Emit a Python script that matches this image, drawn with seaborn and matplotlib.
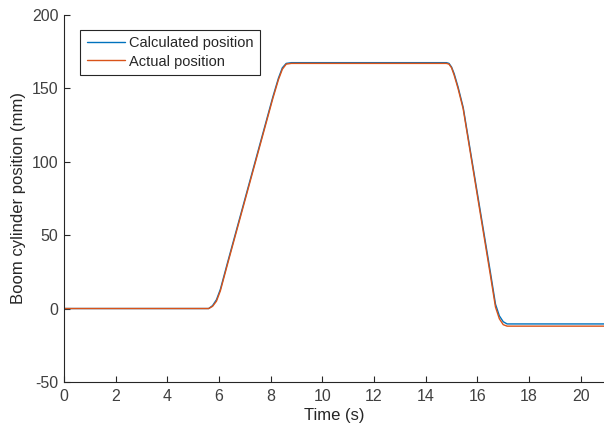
import matplotlib
matplotlib.use("Agg")
import matplotlib.pyplot as plt
import seaborn as sns

# Values
time_calc = [0, 5.6, 5.75, 5.9, 6.05, 6.34, 8.08, 8.3, 8.45, 8.6, 8.8,
             14.8, 14.9, 15.0, 15.1, 15.25, 15.45, 16.5, 16.7, 16.85, 17.0, 17.15, 20.9]
pos_calc = [0, 0, 2, 6, 13, 32, 144, 157, 164, 167, 167.5,
            167.5, 167, 164.5, 160, 151, 137, 25, 3, -5, -9, -10.5, -10.5]

time_act = [0, 5.6, 5.75, 5.9, 6.05, 6.34, 8.08, 8.3, 8.45, 8.6, 8.8,
            14.8, 14.9, 15.0, 15.1, 15.25, 15.45, 16.5, 16.7, 16.85, 17.0, 17.15, 20.9]
pos_act = [0, 0, 1.5, 5, 12, 31, 143, 156, 163, 166.5, 167,
           167, 166.5, 164, 159, 150, 136, 23, 1, -7, -11, -12, -12]

series_labels = ["Calculated position", "Actual position"]
x_ticks = [0, 2, 4, 6, 8, 10, 12, 14, 16, 18, 20]
y_ticks = [-50, 0, 50, 100, 150, 200]

sns.set_style("ticks")
plt.rcParams["font.family"] = ["Liberation Sans", "DejaVu Sans"]
plt.rcParams["axes.unicode_minus"] = False

fig = plt.figure(figsize=(6.04, 4.40), dpi=100)
ax = fig.add_axes([0.106, 0.132, 0.894, 0.834])

blue = "#0072BD"
orange = "#D95319"
sns.lineplot(x=time_calc, y=pos_calc, ax=ax, color=blue, linewidth=1.0,
             sort=False, estimator=None, label=series_labels[0])
sns.lineplot(x=time_act, y=pos_act, ax=ax, color=orange, linewidth=1.0,
             sort=False, estimator=None, label=series_labels[1])

ax.set_xlim(0, 20.9)
ax.set_ylim(-50, 200)
ax.set_xticks(x_ticks)
ax.set_yticks(y_ticks)
ax.tick_params(direction="in", length=4, width=0.8, colors="#262626",
               labelsize=11.5, labelcolor="#404040")
ax.tick_params(axis="x", pad=5)
ax.tick_params(axis="y", pad=4)
for s in ["top", "right"]:
    ax.spines[s].set_visible(False)
for s in ["left", "bottom"]:
    ax.spines[s].set_color("#262626")
    ax.spines[s].set_linewidth(0.8)

ax.set_xlabel("Time (s)", fontsize=12, color="#262626", labelpad=3)
ax.set_ylabel("Boom cylinder position (mm)", fontsize=12, color="#262626", labelpad=4)

leg = ax.legend(loc="upper left", bbox_to_anchor=(0.03, 0.96), fontsize=10.5,
                frameon=True, fancybox=False, edgecolor="#262626",
                handlelength=2.6, handletextpad=0.3, borderpad=0.45,
                labelspacing=0.3, borderaxespad=0)
leg.get_frame().set_linewidth(0.8)
leg.get_frame().set_alpha(1)
for t in leg.get_texts():
    t.set_color("#262626")

fig.savefig("out.png", dpi=100)
